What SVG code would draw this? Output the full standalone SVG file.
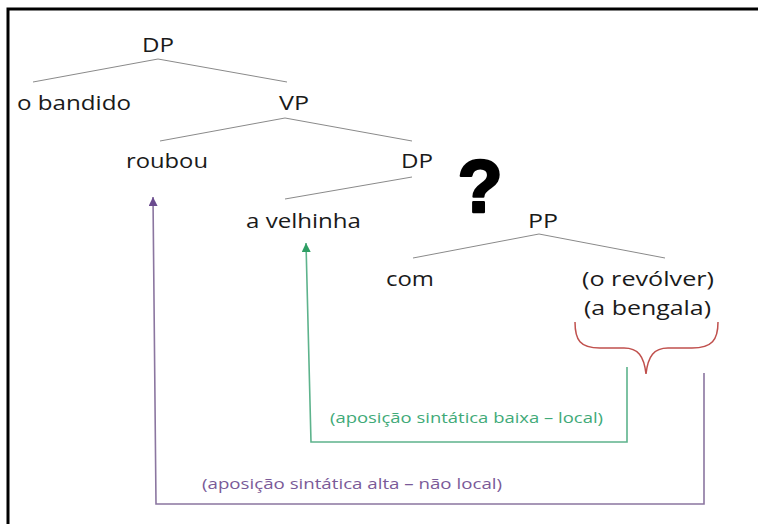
<svg xmlns="http://www.w3.org/2000/svg" width="758" height="524" viewBox="0 0 758 524">
  <style>
    .lbl { font-family: "Open Sans", "Noto Sans", "Liberation Sans", sans-serif; font-size: 20px; fill: #1a1a1a; }
    .note { font-family: "Open Sans", "Noto Sans", "Liberation Sans", sans-serif; font-size: 15px; }
    .branch { stroke: #8a8a8a; stroke-width: 1; fill: none; }
    .low { stroke: #5db38c; stroke-width: 1.6; fill: none; }
    .high { stroke: #8b76a0; stroke-width: 1.6; fill: none; }
  </style>
  <defs>
    <marker id="headGreen" viewBox="0 0 10 10" refX="10" refY="5" markerWidth="9" markerHeight="9" markerUnits="userSpaceOnUse" orient="auto">
      <path d="M0,0 L10,5 L0,10 z" fill="#2e9e64"/>
    </marker>
    <marker id="headPurple" viewBox="0 0 10 10" refX="10" refY="5" markerWidth="9" markerHeight="9" markerUnits="userSpaceOnUse" orient="auto">
      <path d="M0,0 L10,5 L0,10 z" fill="#6a4a8e"/>
    </marker>
  </defs>

  <rect width="758" height="524" fill="#ffffff"/>
  <!-- frame -->
  <path d="M8 524 V9 H758" stroke="#000" stroke-width="3" fill="none"/>

  <!-- tree branches and attachment arrows -->
  <g id="connectors">
    <line class="branch" x1="158" y1="59" x2="33" y2="82"/>
    <line class="branch" x1="158" y1="59" x2="287" y2="82"/>
    <line class="branch" x1="285" y1="118" x2="160" y2="141"/>
    <line class="branch" x1="285" y1="118" x2="412" y2="141"/>
    <line class="branch" x1="412" y1="177" x2="285" y2="199"/>
    <line class="branch" x1="539" y1="234" x2="413" y2="258"/>
    <line class="branch" x1="539" y1="234" x2="665" y2="258"/>
    <path class="low" d="M627 367 V442 H311 L306 243" marker-end="url(#headGreen)"/>
    <path class="high" d="M704 373 V504 H156 L153 197" marker-end="url(#headPurple)"/>
  </g>

  <g id="dp-top"><text class="lbl" x="142" y="52" textLength="32" lengthAdjust="spacingAndGlyphs">DP</text></g>
  <g id="o-bandido"><text class="lbl" x="17" y="110" textLength="114" lengthAdjust="spacingAndGlyphs">o bandido</text></g>
  <g id="vp"><text class="lbl" x="279" y="110" textLength="30" lengthAdjust="spacingAndGlyphs">VP</text></g>
  <g id="roubou"><text class="lbl" x="126" y="168" textLength="82" lengthAdjust="spacingAndGlyphs">roubou</text></g>
  <g id="dp-object"><text class="lbl" x="401" y="168" textLength="32" lengthAdjust="spacingAndGlyphs">DP</text></g>
  <g id="question"><text x="480" y="212" text-anchor="middle" font-family="'Liberation Sans', Arial, sans-serif" font-weight="bold" font-size="74" fill="#000" stroke="#000" stroke-width="2.5" stroke-linejoin="round">?</text></g>
  <g id="a-velhinha"><text class="lbl" x="246" y="228" textLength="115" lengthAdjust="spacingAndGlyphs">a velhinha</text></g>
  <g id="pp"><text class="lbl" x="528" y="228" textLength="30" lengthAdjust="spacingAndGlyphs">PP</text></g>
  <g id="com"><text class="lbl" x="386" y="286" textLength="48" lengthAdjust="spacingAndGlyphs">com</text></g>
  <g id="complement">
    <text class="lbl" x="582" y="286" textLength="132" lengthAdjust="spacingAndGlyphs">(o revólver)</text>
    <text class="lbl" x="584" y="315" textLength="127" lengthAdjust="spacingAndGlyphs">(a bengala)</text>
    <path d="M575 322 C575 340 580 348 600 348 L624 348 C638 348 644 356 646 374 C648 356 654 348 668 348 L692 348 C712 348 718 340 718 322" stroke="#c0504d" stroke-width="1.5" fill="none"/>
  </g>
  <g id="low-attachment"><text class="note" x="330" y="423" fill="#3faa78" textLength="273" lengthAdjust="spacingAndGlyphs">(aposição sintática baixa – local)</text></g>
  <g id="high-attachment"><text class="note" x="202" y="489" fill="#7a5a98" textLength="300" lengthAdjust="spacingAndGlyphs">(aposição sintática alta – não local)</text></g>
</svg>
